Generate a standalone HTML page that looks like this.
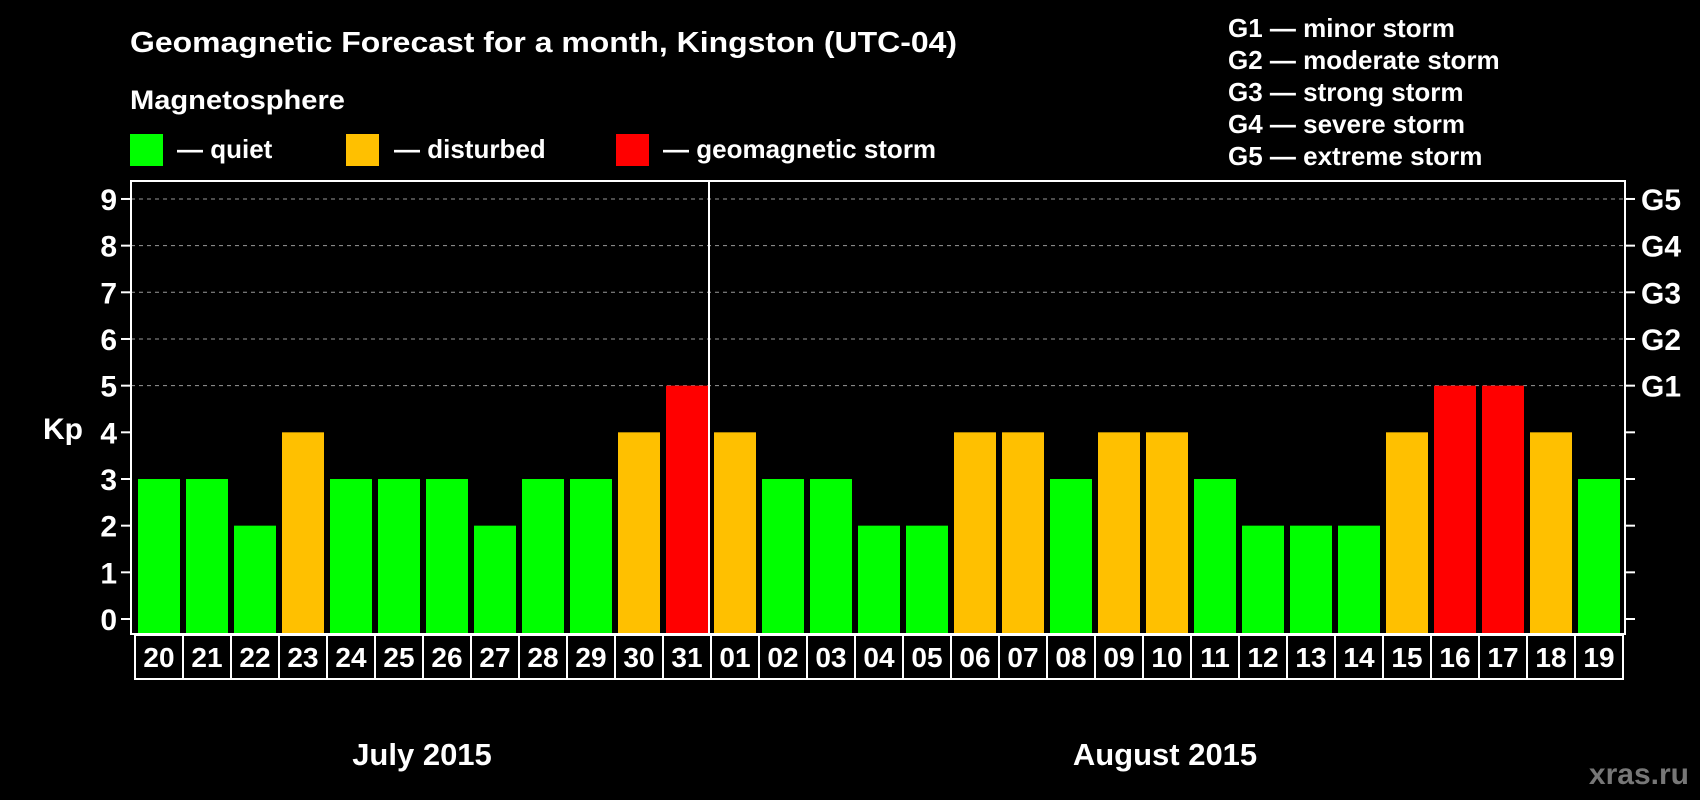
<!DOCTYPE html>
<html><head><meta charset="utf-8"><style>
html,body{margin:0;padding:0;background:#000;}
svg{display:block;font-family:"Liberation Sans",Arial,sans-serif;font-weight:bold;}
</style></head><body>
<svg id="chart" width="1700" height="800" viewBox="0 0 1700 800">
<text x="130" y="52" fill="#fff" font-size="29" textLength="827" lengthAdjust="spacingAndGlyphs">Geomagnetic Forecast for a month, Kingston (UTC-04)</text>
<text x="130" y="109" fill="#fff" font-size="27" textLength="215" lengthAdjust="spacingAndGlyphs">Magnetosphere</text>
<g><rect x="130" y="134" width="33" height="32" fill="#00ff00"/><text x="177" y="158" fill="#fff" font-size="26">— quiet</text></g>
<g><rect x="346" y="134" width="33" height="32" fill="#ffc000"/><text x="394" y="158" fill="#fff" font-size="26">— disturbed</text></g>
<g><rect x="616" y="134" width="33" height="32" fill="#ff0000"/><text x="663" y="158" fill="#fff" font-size="26">— geomagnetic storm</text></g>
<g fill="#fff" font-size="26">
<text x="1228" y="37">G1 — minor storm</text>
<text x="1228" y="69">G2 — moderate storm</text>
<text x="1228" y="101">G3 — strong storm</text>
<text x="1228" y="133">G4 — severe storm</text>
<text x="1228" y="165">G5 — extreme storm</text>
</g>
<text x="63" y="439" fill="#fff" font-size="30" text-anchor="middle">Kp</text>
<g id="plot"></g>
<text x="422" y="765" fill="#fff" font-size="31" text-anchor="middle">July 2015</text>
<text x="1165" y="765" fill="#fff" font-size="31" text-anchor="middle">August 2015</text>
<text x="1689" y="784" fill="#777" font-size="30" text-anchor="end">xras.ru</text>
</svg>
<script>
const days=["20","21","22","23","24","25","26","27","28","29","30","31","01","02","03","04","05","06","07","08","09","10","11","12","13","14","15","16","17","18","19"];
const kp=[3,3,2,4,3,3,3,2,3,3,4,5,4,3,3,2,2,4,4,3,4,4,3,2,2,2,4,5,5,4,3];
const yTicks=[0,1,2,3,4,5,6,7,8,9];
const gLabels=["G1","G2","G3","G4","G5"];
const NS="http://www.w3.org/2000/svg";
const g=document.getElementById('plot');
const L=131,R=1625,T=181,B=634,x0=135,pitch=48;
const y=v=>619-v*46.67;
const xs=i=>x0+i*pitch;
function mk(t,a){const e=document.createElementNS(NS,t);for(const k in a)e.setAttribute(k,a[k]);g.appendChild(e);return e;}
yTicks.forEach(v=>{
 if(v>=5){const l=mk('line',{x1:L,x2:R,y1:y(v),y2:y(v),stroke:'#999','stroke-width':1,'stroke-dasharray':'4,4'});
 
 }
 const tl=mk('line',{x1:L-10,x2:L,y1:y(v),y2:y(v),stroke:'#fff','stroke-width':2});
 
 
 const tr=mk('line',{x1:R,x2:R+10,y1:y(v),y2:y(v),stroke:'#fff','stroke-width':2});
 
 
 const t=mk('text',{x:L-14,y:y(v)+11,fill:'#fff','font-size':30,'text-anchor':'end'});t.textContent=v;
 
 
});
gLabels.forEach((s,i)=>{
 const t=mk('text',{x:R+16,y:y(5+i)+11,fill:'#fff','font-size':30});t.textContent=s;
 
 
});
kp.forEach((v,i)=>{
 const c=v>=5?'#ff0000':(v>=4?'#ffc000':'#00ff00');
 const r=mk('rect',{x:xs(i)+3,y:y(v),width:42,height:B-y(v),fill:c});
 
 
 const bx=mk('rect',{x:xs(i),y:B+1,width:pitch,height:44,fill:'none',stroke:'#fff','stroke-width':2});
 
 
 const t=mk('text',{x:xs(i)+pitch/2,y:B+33,fill:'#fff','font-size':28,'text-anchor':'middle'});t.textContent=days[i];
 
 
});
const fr=mk('rect',{x:L,y:T,width:R-L,height:B-T,fill:'none',stroke:'#fff','stroke-width':2});


const dv=mk('line',{x1:xs(12)-2,x2:xs(12)-2,y1:T,y2:B,stroke:'#fff','stroke-width':2});


</script>
</body></html>
